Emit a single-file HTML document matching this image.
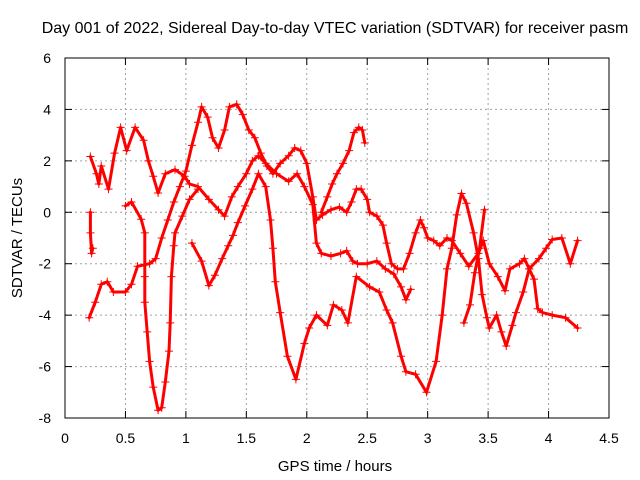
<!DOCTYPE html>
<html><head><meta charset="utf-8"><style>
html,body{margin:0;padding:0;background:#fff;}
svg{display:block;font-family:"Liberation Sans",sans-serif;}
</style></head><body>
<svg id="chart" width="640" height="480" viewBox="0 0 640 480">
<rect width="640" height="480" fill="#fff"/>
<text x="335" y="33" font-size="16" text-anchor="middle">Day 001 of 2022, Sidereal Day-to-day VTEC variation (SDTVAR) for receiver pasm</text>
<g id="grid"></g>
<g id="axes"></g>
<g id="series"></g>
<rect x="65" y="58" width="544" height="360" fill="none" stroke="#000" stroke-width="1"/>
<text x="335" y="471" font-size="15" text-anchor="middle">GPS time / hours</text>
<text x="0" y="0" font-size="15" text-anchor="middle" transform="translate(22,238) rotate(-90)">SDTVAR / TECUs</text>
</svg>
<script>
const xTicks = [0,0.5,1,1.5,2,2.5,3,3.5,4,4.5];
const xTickLabels = ["0","0.5","1","1.5","2","2.5","3","3.5","4","4.5"];
const yTicks = [-8,-6,-4,-2,0,2,4,6];
const yTickLabels = ["-8","-6","-4","-2","0","2","4","6"];
const s1t = [0.20,0.25,0.30,0.35,0.40,0.50,0.55,0.60,0.70,0.75,0.80,0.85,0.90,0.95,1.00,1.05,1.10,1.13,1.18,1.22,1.27,1.32,1.36,1.42,1.47,1.52,1.57,1.62,1.67,1.72,1.78,1.85,1.90,1.95,2.00,2.05,2.08,2.13,2.20,2.27,2.33,2.37,2.41,2.45,2.50,2.52,2.58,2.63,2.66,2.70,2.75,2.80,2.85,2.90,2.94,2.97,3.00,3.05,3.10,3.16,3.20,3.27,3.34,3.42,3.46,3.51,3.58,3.64,3.68,3.76,3.80,3.84,3.92,3.98,4.03,4.11,4.18,4.24];
const s1v = [-4.1,-3.5,-2.8,-2.7,-3.1,-3.1,-2.8,-2.1,-2.0,-1.8,-1.0,-0.3,0.4,1.0,1.6,2.6,3.5,4.1,3.7,2.9,2.5,3.2,4.1,4.2,3.8,3.2,2.9,2.3,1.8,1.5,1.9,2.2,2.5,2.4,1.9,0.6,-0.3,-0.1,0.1,0.2,0.0,0.4,0.9,0.9,0.5,0.0,-0.15,-0.5,-1.2,-2.0,-2.2,-2.2,-1.6,-0.8,-0.3,-0.6,-1.0,-1.1,-1.3,-1.0,-1.1,-1.6,-2.1,-1.6,-1.1,-2.0,-2.5,-3.05,-2.2,-2.0,-1.8,-2.2,-1.8,-1.4,-1.06,-1.0,-2.0,-1.1];
const s2t = [0.21,0.26,0.28,0.30,0.36,0.41,0.46,0.51,0.58,0.65,0.69,0.73,0.77,0.83,0.91,0.99,1.03,1.10,1.19,1.27,1.32,1.38,1.43,1.50,1.55,1.60,1.66,1.75,1.85,1.92,1.98,2.05,2.08,2.12,2.20,2.28,2.33,2.38,2.42,2.50,2.58,2.65,2.72,2.78,2.82,2.86];
const s2v = [2.17,1.5,1.1,1.8,0.9,2.3,3.3,2.4,3.3,2.8,2.0,1.4,0.75,1.5,1.66,1.4,1.1,1.0,0.5,0.1,-0.15,0.6,1.0,1.5,2.0,2.2,1.9,1.5,1.2,1.5,1.0,0.3,-1.2,-1.6,-1.7,-1.6,-1.5,-1.9,-2.0,-2.0,-1.9,-2.2,-2.4,-2.9,-3.4,-3.0];
const s3at = [0.21,0.21,0.22,0.23];
const s3av = [0.0,-0.8,-1.6,-1.4];
const s3t = [0.50,0.55,0.63,0.66,0.66,0.66,0.68,0.70,0.73,0.77,0.80,0.83,0.86,0.87,0.88,0.90,0.91,0.97,1.03,1.10];
const s3v = [0.25,0.4,-0.27,-0.8,-2.5,-3.5,-4.65,-5.8,-6.8,-7.7,-7.6,-6.6,-5.4,-4.3,-2.5,-1.3,-0.8,-0.15,0.5,0.9];
const s4t = [1.05,1.13,1.19,1.24,1.30,1.35,1.39,1.43,1.49,1.55,1.60,1.66,1.70,1.72,1.74,1.78,1.84,1.91,1.98,2.02,2.08,2.17,2.22,2.29,2.34,2.41,2.52,2.60,2.66,2.71,2.78,2.82,2.90,2.99,3.07,3.12,3.16,3.20,3.24,3.28,3.32,3.38,3.42,3.45,3.49,3.51,3.57,3.61,3.65,3.70,3.73,3.79,3.84,3.88,3.91,3.95,4.03,4.14,4.24];
const s4v = [-1.2,-1.9,-2.85,-2.45,-1.8,-1.3,-0.9,-0.4,0.25,0.9,1.5,1.0,-0.3,-1.4,-2.7,-3.9,-5.6,-6.5,-5.1,-4.5,-4.0,-4.4,-3.6,-3.8,-4.3,-2.5,-2.9,-3.1,-3.8,-4.3,-5.6,-6.2,-6.3,-7.0,-5.8,-4.0,-2.2,-1.4,-0.1,0.73,0.35,-0.8,-1.8,-3.2,-4.1,-4.5,-4.0,-4.65,-5.2,-4.4,-3.9,-3.1,-2.2,-2.6,-3.75,-3.9,-4.0,-4.1,-4.5];
const s5t = [2.12,2.17,2.21,2.25,2.30,2.35,2.39,2.43,2.46,2.48];
const s5v = [0.0,0.6,1.1,1.5,1.9,2.4,3.1,3.3,3.2,2.7];
const s6t = [3.30,3.35,3.39,3.43,3.47];
const s6v = [-4.3,-3.6,-2.35,-1.4,0.1];
const seriesT = [s1t,s2t,s3at,s3t,s4t,s5t,s6t];
const seriesV = [s1v,s2v,s3av,s3v,s4v,s5v,s6v];

const NS="http://www.w3.org/2000/svg";
const X0=65,X1=609,Y0=418,Y1=58;
function xs(t){return X0+(t-0)/(4.5-0)*(X1-X0);}
function ys(v){return Y0-(v+8)/(14)*(Y0-Y1);}
function mk(tag,attrs,parent){const e=document.createElementNS(NS,tag);for(const k in attrs)e.setAttribute(k,attrs[k]);parent.appendChild(e);return e;}
const grid=document.getElementById('grid'),axes=document.getElementById('axes'),sg=document.getElementById('series');
xTicks.forEach((t,i)=>{
  const x=xs(t);
  if(i>0&&i<xTicks.length-1){const g=mk('line',{x1:x,x2:x,y1:Y1,y2:Y0,stroke:'#a0a0a0','stroke-dasharray':'2,3'},grid);
  
  }
  mk('line',{x1:x,x2:x,y1:Y0,y2:Y0-7,stroke:'#000'},axes);
  mk('line',{x1:x,x2:x,y1:Y1,y2:Y1+7,stroke:'#000'},axes);
  const tx=mk('text',{x:x,y:443,'font-size':14,'text-anchor':'middle'},axes);
  tx.textContent=xTickLabels[i];
  
  
});
yTicks.forEach((v,i)=>{
  const y=ys(v);
  if(i>0&&i<yTicks.length-1){const g=mk('line',{x1:X0,x2:X1,y1:y,y2:y,stroke:'#a0a0a0','stroke-dasharray':'2,3'},grid);
  
  }
  mk('line',{x1:X0,x2:X0+7,y1:y,y2:y,stroke:'#000'},axes);
  mk('line',{x1:X1,x2:X1-7,y1:y,y2:y,stroke:'#000'},axes);
  const tx=mk('text',{x:51,y:y+5,'font-size':14,'text-anchor':'end'},axes);
  tx.textContent=yTickLabels[i];
  
  
});
seriesT.forEach((ts,si)=>{
  const vs=seriesV[si];
  const g=mk('g',{},sg);
  
  
  let d='';
  ts.forEach((t,i)=>{
    const x=xs(t),y=ys(vs[i]);
    d+=(i===0?'M':'L')+x.toFixed(1)+' '+y.toFixed(1);
  });
  const p=mk('path',{d:d,fill:'none',stroke:'#ff0000','stroke-width':3,'stroke-linejoin':'round','stroke-linecap':'round'},g);
  
  
  ts.forEach((t,i)=>{
    const x=xs(t),y=ys(vs[i]);
    const m=mk('path',{d:`M${x-4} ${y}H${x+4}M${x} ${y-4}V${y+4}`,stroke:'#ff0000','stroke-width':1},g);
    
    
  });
});
</script>
</body></html>
